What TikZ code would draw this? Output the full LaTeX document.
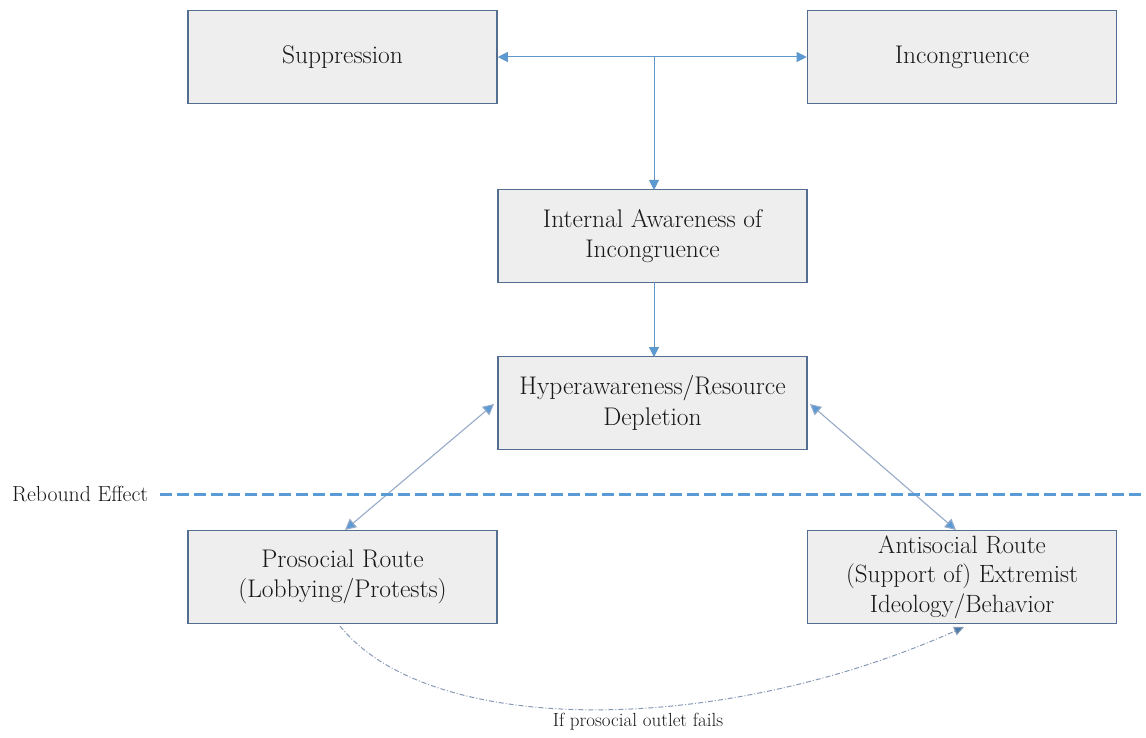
\documentclass[tikz,border=0pt]{standalone}
\usetikzlibrary{arrows.meta}
\definecolor{boxfill}{RGB}{238,238,238}
\definecolor{boxline}{RGB}{84,110,145}
\definecolor{arrowblue}{RGB}{91,155,213}
\definecolor{linkgray}{RGB}{150,170,200}
\definecolor{textdark}{RGB}{24,24,24}
\begin{document}
\begin{tikzpicture}[x=1pt,y=-1pt,
  stagebox/.style={draw=boxline, line width=1.6pt, fill=boxfill,
    minimum width=309pt, minimum height=93pt, align=center,
    text=textdark, font=\fontsize{25.5}{30.5}\selectfont, inner sep=0pt},
  headtip/.tip={Triangle[length=10pt,width=10pt,fill=arrowblue]},
  bigtip/.tip={Triangle[length=11pt,width=11pt,fill=arrowblue]},
  link/.style={draw=arrowblue!85!gray, line width=1pt},
  plainlabel/.style={text=textdark, inner sep=0pt}]
  \useasboundingbox (0,0) rectangle (1146,738);

  % stages
  \node[stagebox] (supp)   at (342.5,57)  {Suppression};
  \node[stagebox] (incong) at (962,57)    {Incongruence};
  \node[stagebox] (aware)  at (652.5,236) {Internal Awareness of\\Incongruence};
  \node[stagebox] (hyper)  at (652.5,403) {Hyperawareness/Resource\\Depletion};
  \node[stagebox] (pro)    at (342.5,577) {Prosocial Route\\(Lobbying/Protests)};
  \node[stagebox, font=\fontsize{25}{29.5}\selectfont] (anti) at (962,577)
    {Antisocial Route\\(Support of) Extremist\\Ideology/Behavior};

  % top connectors
  \draw[link, headtip-headtip] (supp.east) -- (incong.west);
  \coordinate (junction) at (654,57);
  \coordinate (awaretop) at (654,190);
  \draw[link, -headtip] (junction) -- (awaretop);
  \coordinate (awarebot) at (654,282);
  \coordinate (hypertop) at (654,357);
  \draw[link, -headtip] (awarebot) -- (hypertop);

  % diagonal links
  \coordinate (hyperL) at (494,404);
  \coordinate (proT)   at (345,530);
  \coordinate (hyperR) at (810,404);
  \coordinate (antiT)  at (956,530);
  \draw[draw=linkgray, line width=1.1pt, bigtip-bigtip] (hyperL) -- (proT);
  \draw[draw=linkgray, line width=1.1pt, bigtip-bigtip] (hyperR) -- (antiT);

  % rebound threshold
  \node[plainlabel, anchor=west, font=\fontsize{21.8}{26}\selectfont] (rebound)
    at (12,494) {Rebound Effect};
  \coordinate (dashstart) at (160,494);
  \coordinate (dashend) at (1146,494);
  \draw[arrowblue, line width=3pt, dash pattern=on 12pt off 5pt] (dashstart) -- (dashend);

  % fallback path
  \coordinate (proB)  at (340,626);
  \coordinate (antiB) at (964,627);
  \draw[linkgray!90!black, line width=1pt, dash pattern=on 5pt off 2pt on 1pt off 2pt,
    -{Triangle[length=10pt,width=9pt,fill=arrowblue!80!black]}]
    (proB) .. controls (430,738) and (720,736) .. (antiB);
  \node[plainlabel, font=\fontsize{19}{23}\selectfont] (fails) at (638,722)
    {If prosocial outlet fails};
\end{tikzpicture}
\end{document}
